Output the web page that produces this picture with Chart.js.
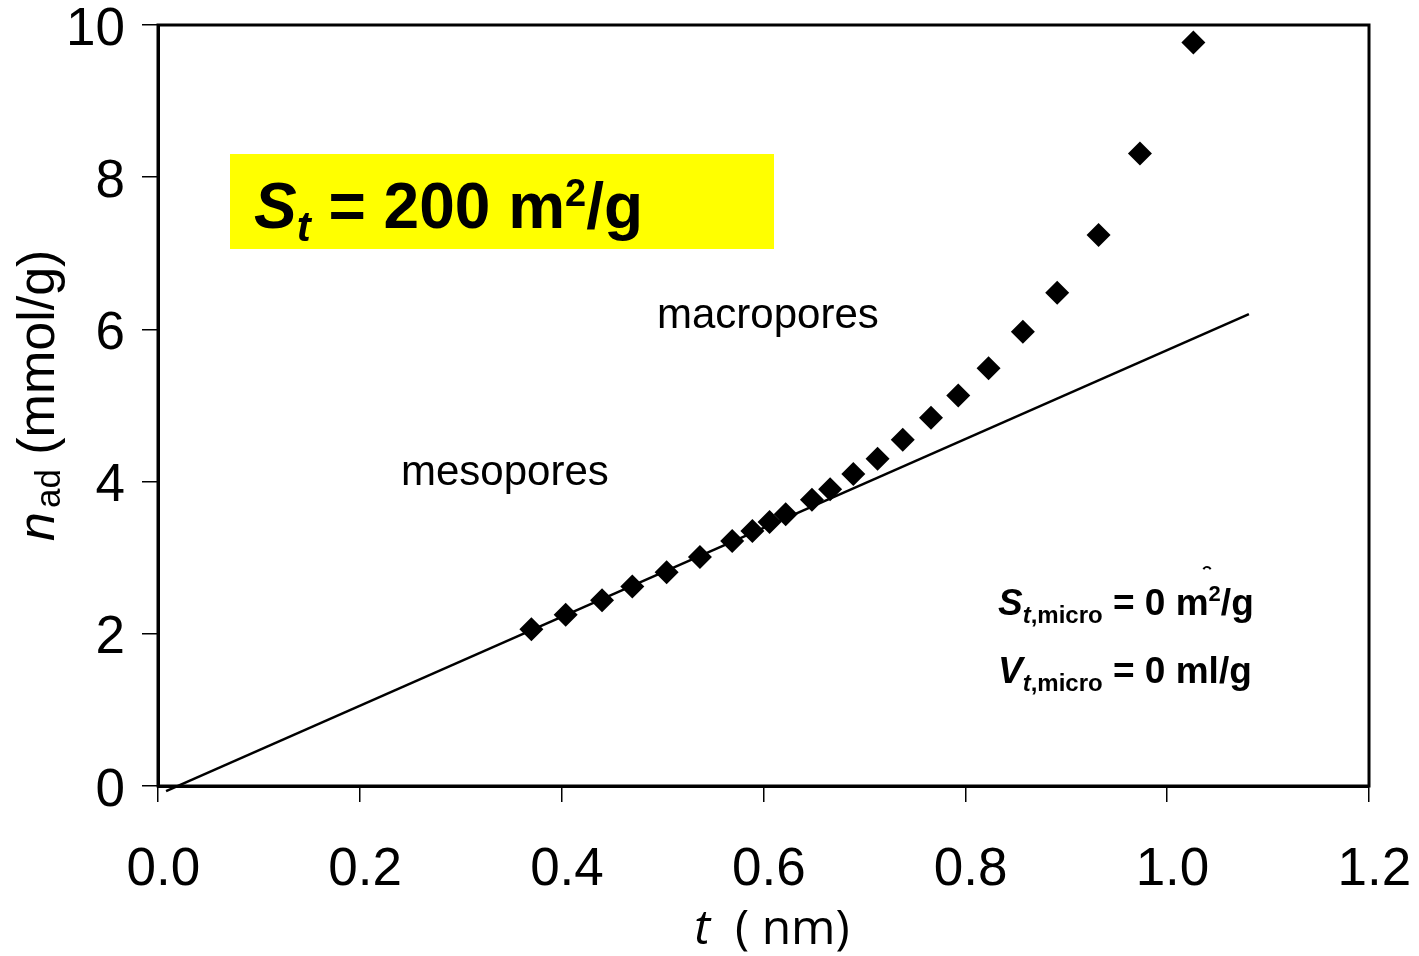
<!DOCTYPE html>
<html>
<head>
<meta charset="utf-8">
<script src="https://cdn.jsdelivr.net/npm/chart.js@4"></script>
<style>
html,body{margin:0;padding:0;background:#fff;}
#c{display:block;}
</style>
</head>
<body>
<canvas id="c" width="1419" height="956"></canvas>
<script>
// t-plot data (t in nm, n_ad in mmol/g)
const tValues = [0.370, 0.404, 0.440, 0.470, 0.504, 0.537, 0.569, 0.589, 0.606, 0.622, 0.648, 0.666,
  0.689, 0.713, 0.738, 0.766, 0.793, 0.823, 0.857, 0.891, 0.932, 0.973, 1.026];
const nValues = [2.06, 2.25, 2.44, 2.62, 2.81, 3.01, 3.22, 3.35, 3.47, 3.57, 3.76, 3.90,
  4.10, 4.30, 4.55, 4.84, 5.13, 5.49, 5.97, 6.48, 7.24, 8.31, 9.77];

// straight line through the low-t points
const fitT = [0.008, 1.081];
const fitN = [-0.066, 6.20];

const xTicks = [0, 0.2, 0.4, 0.6, 0.8, 1.0, 1.2];
const yTicks = [0, 2, 4, 6, 8, 10];

const FONT = "'Liberation Sans', Arial, sans-serif";

const pts = tValues.map((t, i) => ({x: t, y: nValues[i]}));
const fitPts = fitT.map((t, i) => ({x: t, y: fitN[i]}));

// text drawn inside the plot + frame + axis titles
const extras = {
  id: "extras",
  afterDraw(chart) {
    const ctx = chart.ctx;
    const a = chart.chartArea;
    ctx.save();

    // frame
    ctx.strokeStyle = "#000";
    ctx.lineWidth = 3;
    ctx.strokeRect(a.left, a.top, a.right - a.left, a.bottom - a.top);

    // yellow label box
    ctx.fillStyle = "#ffff00";
    ctx.fillRect(230, 154, 544, 95);
    ctx.fillStyle = "#000";
    ctx.textBaseline = "alphabetic";
    ctx.textAlign = "left";
    let x = 254;
    ctx.font = "bold italic 64px " + FONT;
    ctx.fillText("S", x, 228);
    x += ctx.measureText("S").width;
    ctx.font = "bold italic 42px " + FONT;
    ctx.fillText("t", x, 241);
    x += ctx.measureText("t").width;
    ctx.font = "bold 64px " + FONT;
    ctx.fillText(" = 200 m", x, 228);
    x += ctx.measureText(" = 200 m").width;
    ctx.font = "bold 38px " + FONT;
    ctx.fillText("2", x, 206);
    x += ctx.measureText("2").width;
    ctx.font = "bold 64px " + FONT;
    ctx.fillText("/g", x, 228);

    // region labels
    ctx.font = "42px " + FONT;
    ctx.fillText("mesopores", 401, 485);
    ctx.fillText("macropores", 657, 328);

    // micropore results
    function microLine(letter, rest, y, sup) {
      let px = 998;
      ctx.font = "bold italic 37px " + FONT;
      ctx.fillText(letter, px, y);
      px += ctx.measureText(letter).width;
      ctx.font = "bold italic 24px " + FONT;
      ctx.fillText("t", px, y + 8);
      px += ctx.measureText("t").width;
      ctx.font = "bold 24px " + FONT;
      ctx.fillText(",micro", px, y + 8);
      px += ctx.measureText(",micro").width;
      ctx.font = "bold 37px " + FONT;
      ctx.fillText(rest, px, y);
      px += ctx.measureText(rest).width;
      if (sup) {
        ctx.font = "bold 22px " + FONT;
        ctx.fillText("2", px, y - 14);
        px += ctx.measureText("2").width;
        ctx.font = "bold 37px " + FONT;
        ctx.fillText("/g", px, y);
      }
    }
    microLine("S", " = 0 m", 615, true);
    microLine("V", " = 0 ml/g", 683, false);

    // small stray mark above the text
    ctx.lineWidth = 2;
    ctx.beginPath();
    ctx.arc(1207, 571, 4, Math.PI * 1.15, Math.PI * 1.85);
    ctx.stroke();

    // x title
    ctx.font = "italic 48px 'Open Sans', sans-serif";
    const tW = ctx.measureText("t").width;
    ctx.font = "48px 'Open Sans', sans-serif";
    const restW = ctx.measureText("  ( nm)").width;
    let sx = 772 - (tW + restW) / 2;
    ctx.font = "italic 48px 'Open Sans', sans-serif";
    ctx.fillText("t", sx, 944);
    ctx.font = "48px 'Open Sans', sans-serif";
    ctx.fillText("  ( nm)", sx + tW, 944);

    // y title (rotated)
    ctx.translate(54, 541);
    ctx.rotate(-Math.PI / 2);
    let ry = 0;
    ctx.font = "italic 52px " + FONT;
    ctx.fillText("n", ry, 0);
    ry += ctx.measureText("n").width + 4;
    ctx.font = "35px " + FONT;
    ctx.fillText("ad", ry, 6);
    ry += ctx.measureText("ad").width;
    ctx.font = "52px " + FONT;
    ctx.fillText(" (mmol/g)", ry, 0);

    ctx.restore();
  }
};

new Chart(document.getElementById("c"), {
  type: "scatter",
  data: {
    datasets: [
      {
        data: pts,
        pointStyle: "rectRot",
        pointRadius: 12,
        pointHoverRadius: 12,
        backgroundColor: "#000",
        borderColor: "#000",
        borderWidth: 0
      },
      {
        data: fitPts,
        showLine: true,
        pointRadius: 0,
        borderColor: "#000",
        borderWidth: 2.5,
        clip: false
      }
    ]
  },
  options: {
    responsive: false,
    animation: false,
    events: [],
    layout: {padding: {top: 25, right: 50, left: 0, bottom: 0}},
    plugins: {legend: {display: false}, tooltip: {enabled: false}},
    scales: {
      x: {
        type: "linear",
        min: 0,
        max: 1.2,
        afterBuildTicks(scale) { scale.ticks = xTicks.map(v => ({value: v})); },
        afterFit(scale) { scale.height = 170; scale.paddingLeft = 0; scale.paddingRight = 0; },
        ticks: {
          // thin leading space nudges the label slightly right, as in the source
          callback: v => "\u2009" + v.toFixed(1),
          color: "#000",
          font: {family: FONT, size: 53, lineHeight: 1},
          padding: 42,
          maxRotation: 0
        },
        grid: {drawOnChartArea: false, drawTicks: true, tickLength: 16, color: "#000", lineWidth: 1.5},
        border: {display: true, color: "#000", width: 3}
      },
      y: {
        type: "linear",
        min: 0,
        max: 10,
        afterBuildTicks(scale) { scale.ticks = yTicks.map(v => ({value: v})); },
        afterFit(scale) { scale.width = 158; scale.paddingTop = 0; scale.paddingBottom = 0; },
        ticks: {
          // empty first line pushes the number a few px down
          callback: v => ["", String(v)],
          color: "#000",
          font: {family: FONT, size: 53, lineHeight: "10px"},
          padding: 17
        },
        grid: {drawOnChartArea: false, drawTicks: true, tickLength: 16, color: "#000", lineWidth: 1.5},
        border: {display: true, color: "#000", width: 3}
      }
    }
  },
  plugins: [extras]
});
</script>
</body>
</html>
